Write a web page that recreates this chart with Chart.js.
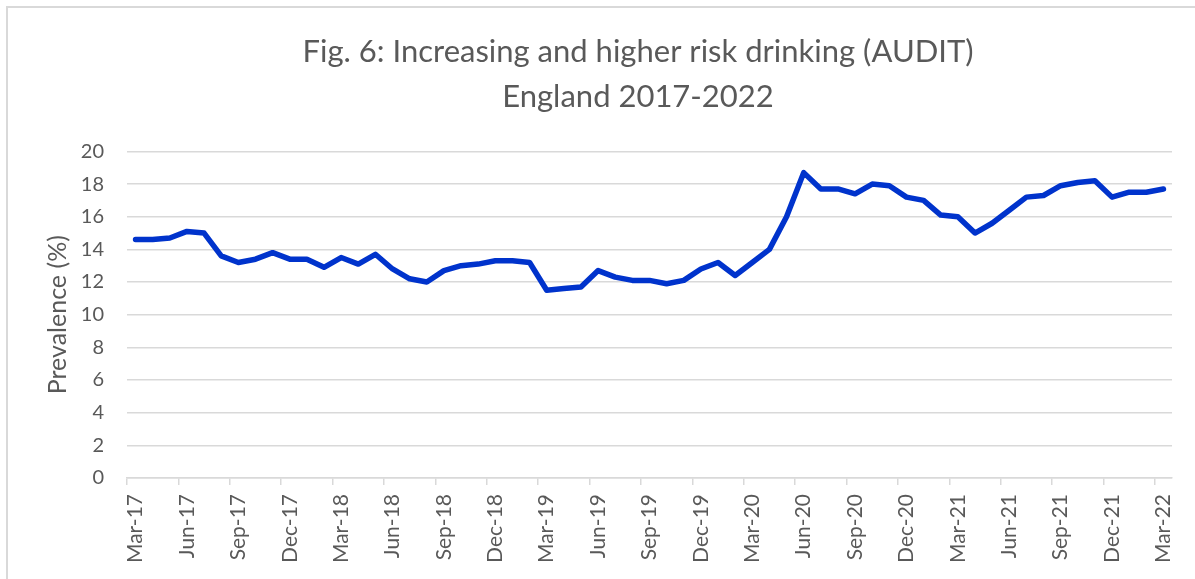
<!DOCTYPE html>
<html>
<head>
<meta charset="utf-8">
<title>Increasing and higher risk drinking (AUDIT)</title>
<script src="https://cdn.jsdelivr.net/npm/chart.js@4/dist/chart.umd.min.js"></script>
<style>
  html, body { margin: 0; padding: 0; background: #fff; overflow: hidden; }
  #frame { position: absolute; left: 6px; top: 6px; width: 1260px; height: 600px; border: 2px solid #d9d9d9; }
</style>
</head>
<body>
<div id="frame"><canvas id="auditChart" width="1260" height="600"></canvas></div>
<script>
// monthly survey waves, Mar 2017 .. Mar 2022
var monthNames = ['Jan', 'Feb', 'Mar', 'Apr', 'May', 'Jun', 'Jul', 'Aug', 'Sep', 'Oct', 'Nov', 'Dec'];
var firstYear = 17;
var firstMonth = 2;   // Mar
var monthCount = 61;

// prevalence of AUDIT score >= 8, %
var prevalence = [
    14.6, 14.6, 14.7, 15.1, 15.0, 13.6, 13.2, 13.4, 13.8, 13.4,
    13.4, 12.9, 13.5, 13.1, 13.7, 12.8, 12.2, 12.0, 12.7, 13.0,
    13.1, 13.3, 13.3, 13.2, 11.5, 11.6, 11.7, 12.7, 12.3, 12.1,
    12.1, 11.9, 12.1, 12.8, 13.2, 12.4, 13.2, 14.0, 16.0, 18.7,
    17.7, 17.7, 17.4, 18.0, 17.9, 17.2, 17.0, 16.1, 16.0, 15.0,
    15.6, 16.4, 17.2, 17.3, 17.9, 18.1, 18.2, 17.2, 17.5, 17.5,
    17.7
];

var titleLines = ['Fig. 6: Increasing and higher risk drinking (AUDIT)', 'England 2017-2022'];
var yAxisTitle = 'Prevalence (%)';

var labels = [];
for (let i = 0; i < monthCount; i++) {
    let m = firstMonth + i;
    labels.push(monthNames[m % 12] + '-' + (firstYear + Math.floor(m / 12)));
}

var textGrey = '#595959';
var lineGrey = '#d9d9d9';

var ctx = document.getElementById('auditChart').getContext('2d');

var myChart = new Chart(ctx, {
    type: 'line',
    data: {
        labels: labels,
        datasets: [{
            label: 'Prevalence',
            data: prevalence,
            borderColor: '#0033cc',
            borderWidth: 5.5,
            borderJoinStyle: 'round',
            borderCapStyle: 'round',
            pointRadius: 0,
            tension: 0,
            fill: false
        }]
    },
    options: {
        responsive: false,
        animation: false,
        layout: {
            padding: { left: 0, right: 0, top: 0, bottom: 36 }
        },
        plugins: {
            legend: { display: false },
            tooltip: { enabled: false },
            title: {
                display: true,
                text: titleLines,
                color: textGrey,
                font: { family: 'Lato', size: 31, weight: 'normal', lineHeight: 1.45 },
                padding: { top: 21.5, bottom: 32 }
            }
        },
        scales: {
            x: {
                offset: true,
                grid: {
                    offset: true,
                    drawOnChartArea: false,
                    drawTicks: true,
                    tickLength: 7,
                    lineWidth: 1.5,
                    // a tick mark at every quarter boundary only
                    color: (c) => c.index % 3 === 0 ? lineGrey : 'rgba(0,0,0,0)'
                },
                border: { color: lineGrey, width: 1.5 },
                ticks: {
                    autoSkip: false,
                    minRotation: 90,
                    maxRotation: 90,
                    padding: 9,
                    color: textGrey,
                    font: { family: 'Lato', size: 21 },
                    callback: function (value, index) {
                        return index % 3 === 0 ? this.getLabelForValue(value) : '';
                    }
                }
            },
            y: {
                min: 0,
                max: 20,
                border: { display: false },
                grid: {
                    color: lineGrey,
                    lineWidth: 1.5,
                    drawTicks: false
                },
                ticks: {
                    stepSize: 2,
                    padding: 23,
                    color: textGrey,
                    font: { family: 'Lato', size: 20 }
                },
                title: {
                    display: true,
                    text: yAxisTitle,
                    color: textGrey,
                    font: { family: 'Lato', size: 25 },
                    padding: { top: 35, bottom: 0 }
                },
                afterFit: (scale) => { scale.width = 119; }
            },
            // empty axis that keeps the white margin right of the plot
            spacer: {
                type: 'linear',
                position: 'right',
                display: true,
                grid: { display: false },
                border: { display: false },
                ticks: { display: false },
                afterFit: (scale) => { scale.width = 96; }
            }
        }
    }
});
</script>
</body>
</html>
